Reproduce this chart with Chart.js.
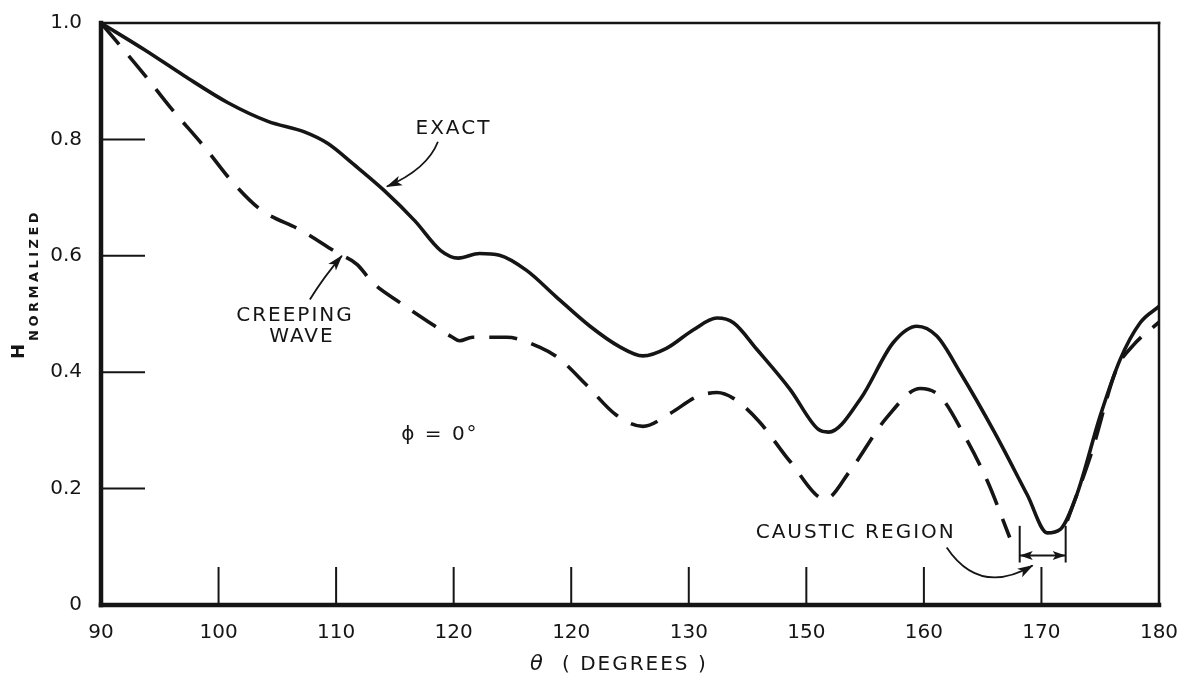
<!DOCTYPE html>
<html>
<head>
<meta charset="utf-8">
<title>H normalized vs theta</title>
<script src="https://cdn.jsdelivr.net/npm/chart.js@4.4.1/dist/chart.umd.min.js"></script>
<style>
  html, body { margin: 0; padding: 0; background: #fff; }
  #chart { display: block; }
</style>
</head>
<body>
<canvas id="chart" width="1190" height="676"></canvas>
<script>
// ─── Data ─────────────────────────────────────────────────────────────────────

const exactTheta = [90, 93.7, 97.1, 100.8, 104.2, 107.3, 109.3, 111.5, 114.1, 116.7,
                    118.9, 120.4, 122.2, 123.9, 126.2, 128.7, 131.6, 134.1, 136.1, 138.1,
                    140.4, 142.4, 143.8, 145.8, 148.6, 151.0, 151.9, 154.6, 157.4, 159.4,
                    161.1, 163.1, 166.0, 168.8, 170.5, 171.6, 173.0, 175.0, 176.7, 178.4, 180];
const exactH     = [1.0, 0.954, 0.909, 0.863, 0.831, 0.813, 0.793, 0.757, 0.712, 0.660,
                    0.609, 0.596, 0.604, 0.601, 0.575, 0.530, 0.479, 0.444, 0.428, 0.441,
                    0.473, 0.493, 0.485, 0.439, 0.371, 0.302, 0.297, 0.354, 0.451, 0.479,
                    0.462, 0.399, 0.297, 0.189, 0.124, 0.130, 0.189, 0.325, 0.422, 0.485, 0.513];

// null = the dashed curve is broken across the caustic region
const creepTheta = [90, 93.7, 95.9, 98.8, 101.3, 103.6, 107.0, 110.1, 111.8, 113.1,
                    115.4, 117.9, 119.9, 120.5, 121.6, 124.5, 127.3, 129.0, 131.3, 133.8,
                    136.1, 138.4, 140.7, 142.4, 143.8, 146.0, 148.6, 151.6, 153.7, 156.8,
                    159.7, 161.4, 163.4, 165.4, 167.3, 170, 172.2, 174.2, 176.4, 177.8, 180];
const creepH     = [1.0, 0.911, 0.855, 0.787, 0.724, 0.679, 0.644, 0.605, 0.585, 0.554,
                    0.520, 0.486, 0.460, 0.454, 0.460, 0.460, 0.443, 0.423, 0.378, 0.327,
                    0.307, 0.329, 0.358, 0.365, 0.355, 0.315, 0.247, 0.182, 0.230, 0.321,
                    0.372, 0.358, 0.293, 0.213, 0.116, null, 0.145, 0.258, 0.406, 0.446, 0.486];

// tick labels exactly as printed on the original (including its repeated "120")
const xTickLabels = ['90', '100', '110', '120', '120', '130', '150', '160', '170', '180'];
const yTickLabels = ['0', '0.2', '0.4', '0.6', '0.8', '1.0'];

// ─── Style ────────────────────────────────────────────────────────────────────

const INK  = '#151515';
const FONT = "'DejaVu Sans', 'Noto Sans', sans-serif";

// annotation text / arrows, placed in data units
const LABELS = [
  { text: 'EXACT',          x: 119.98, y: 0.819 },
  { text: 'CREEPING',       x: 106.5,  y: 0.497 },
  { text: 'WAVE',           x: 107.09, y: 0.460 },
  { text: 'ϕ = 0°',         x: 118.83, y: 0.293 },
  { text: 'CAUSTIC REGION', x: 154.2,  y: 0.124 },
];
const ARROWS = [
  { from: [118.66, 0.796], ctrl: [117.76, 0.749], to: [114.32, 0.719] },
  { from: [107.77, 0.525], ctrl: [108.96, 0.564], to: [110.49, 0.600] },
  { from: [161.94, 0.099], ctrl: [164.74, 0.015], to: [169.25, 0.068] },
];
const CAUSTIC = { x0: 168.15, x1: 172.06, yTop: 0.136, yBot: 0.073, yArrow: 0.085 };

// ─── Helpers ──────────────────────────────────────────────────────────────────

function toPx(chart, x, y) {
  return [chart.scales.x.getPixelForValue(x), chart.scales.y.getPixelForValue(y)];
}

function arrowHead(ctx, fx, fy, x, y, len = 15, half = 5) {
  const ang = Math.atan2(y - fy, x - fx);
  ctx.save();
  ctx.translate(x, y);
  ctx.rotate(ang);
  ctx.beginPath();
  ctx.moveTo(1, 0);
  ctx.lineTo(-len, -half);
  ctx.lineTo(-len * 0.75, 0);
  ctx.lineTo(-len, half);
  ctx.closePath();
  ctx.fill();
  ctx.restore();
}

function line(ctx, x0, y0, x1, y1) {
  ctx.beginPath();
  ctx.moveTo(x0, y0);
  ctx.lineTo(x1, y1);
  ctx.stroke();
}

// ─── Plugin: frame, inward ticks, axis titles, annotations ───────────────────

const paperPlot = {
  id: 'paperPlot',
  beforeDraw(chart) {
    chart.ctx.letterSpacing = '0px';
  },
  afterDraw(chart) {
    const { ctx, chartArea: a, scales: { x, y } } = chart;
    ctx.save();
    ctx.strokeStyle = INK;
    ctx.fillStyle = INK;
    ctx.lineCap = 'square';

    // frame: heavy left/bottom axes, lighter top/right
    ctx.lineWidth = 4.5;
    line(ctx, a.left, a.top, a.left, a.bottom);
    line(ctx, a.left, a.bottom, a.right, a.bottom);
    ctx.lineWidth = 2.5;
    line(ctx, a.left, a.top, a.right, a.top);
    line(ctx, a.right, a.top, a.right, a.bottom);

    // inward tick marks
    ctx.lineWidth = 2;
    ctx.lineCap = 'butt';
    for (let v = 0.2; v < 0.99; v += 0.2) {
      const py = y.getPixelForValue(v);
      line(ctx, a.left, py, a.left + 44, py);
    }
    for (let v = 100; v < 180; v += 10) {
      const px = x.getPixelForValue(v);
      line(ctx, px, a.bottom, px, a.bottom - 38);
    }

    // x title: θ ( DEGREES )
    ctx.textBaseline = 'middle';
    ctx.textAlign = 'left';
    ctx.font = `italic 21px ${FONT}`;
    ctx.fillText('θ', 530, 665);
    ctx.font = `20px ${FONT}`;
    ctx.letterSpacing = '2px';
    ctx.fillText('( DEGREES )', 562, 665);

    // y title: H with NORMALIZED subscript, rotated
    ctx.save();
    ctx.rotate(-Math.PI / 2);
    ctx.textBaseline = 'alphabetic';
    ctx.letterSpacing = '0px';
    ctx.font = `bold 18px ${FONT}`;
    ctx.fillText('H', -359, 24);
    ctx.font = `bold 13px ${FONT}`;
    ctx.letterSpacing = '3.5px';
    ctx.fillText('NORMALIZED', -341, 38);
    ctx.restore();

    // text labels
    ctx.textAlign = 'center';
    ctx.textBaseline = 'middle';
    ctx.font = `20px ${FONT}`;
    ctx.letterSpacing = '2px';
    LABELS.forEach(l => {
      const [px, py] = toPx(chart, l.x, l.y);
      ctx.fillText(l.text, px, py);
    });
    ctx.letterSpacing = '0px';

    // curved leader arrows
    ctx.lineWidth = 1.8;
    ARROWS.forEach(ar => {
      const [x0, y0] = toPx(chart, ...ar.from);
      const [cx, cy] = toPx(chart, ...ar.ctrl);
      const [x1, y1] = toPx(chart, ...ar.to);
      ctx.beginPath();
      ctx.moveTo(x0, y0);
      ctx.quadraticCurveTo(cx, cy, x1, y1);
      ctx.stroke();
      arrowHead(ctx, cx, cy, x1, y1);
    });

    // caustic region bracket |<-->|
    const bx0 = x.getPixelForValue(CAUSTIC.x0);
    const bx1 = x.getPixelForValue(CAUSTIC.x1);
    const byT = y.getPixelForValue(CAUSTIC.yTop);
    const byB = y.getPixelForValue(CAUSTIC.yBot);
    const byA = y.getPixelForValue(CAUSTIC.yArrow);
    ctx.lineWidth = 2;
    line(ctx, bx0, byT, bx0, byB);
    line(ctx, bx1, byT, bx1, byB);
    line(ctx, bx0, byA, bx1, byA);
    arrowHead(ctx, bx0 + 20, byA, bx0 + 1, byA, 12, 4.5);
    arrowHead(ctx, bx1 - 20, byA, bx1 - 1, byA, 12, 4.5);

    ctx.restore();
  },
};

// ─── Chart ────────────────────────────────────────────────────────────────────

const pts = (xs, ys) => xs.map((v, i) => ({ x: v, y: ys[i] }));

new Chart(document.getElementById('chart'), {
  type: 'line',
  data: {
    datasets: [
      {
        label: 'Exact',
        data: pts(exactTheta, exactH),
        borderColor: INK,
        borderWidth: 3.6,
        cubicInterpolationMode: 'monotone',
        pointRadius: 0,
        fill: false,
        clip: 10,
      },
      {
        label: 'Creeping wave',
        data: pts(creepTheta, creepH),
        borderColor: INK,
        borderWidth: 3.6,
        borderDash: [28, 15],
        cubicInterpolationMode: 'monotone',
        spanGaps: false,
        pointRadius: 0,
        fill: false,
        clip: 10,
      },
    ],
  },
  options: {
    responsive: false,
    animation: false,
    events: [],
    layout: { padding: { top: 18, right: 31, left: 0, bottom: 0 } },
    plugins: { legend: { display: false }, tooltip: { enabled: false } },
    scales: {
      x: {
        type: 'linear',
        min: 90,
        max: 180,
        afterFit: s => { s.height = 71; },
        grid: { display: false },
        border: { display: false },
        ticks: {
          stepSize: 10,
          autoSkip: false,
          maxRotation: 0,
          padding: 8,
          color: INK,
          font: { family: FONT, size: 20 },
          callback: v => xTickLabels[Math.round((v - 90) / 10)] ?? '',
        },
      },
      y: {
        min: 0,
        max: 1,
        afterFit: s => { s.width = 101; },
        grid: { display: false },
        border: { display: false },
        ticks: {
          stepSize: 0.2,
          padding: 11,
          color: INK,
          font: { family: FONT, size: 20 },
          callback: v => yTickLabels[Math.round(v / 0.2)] ?? '',
        },
      },
    },
  },
  plugins: [paperPlot],
});
</script>
</body>
</html>
